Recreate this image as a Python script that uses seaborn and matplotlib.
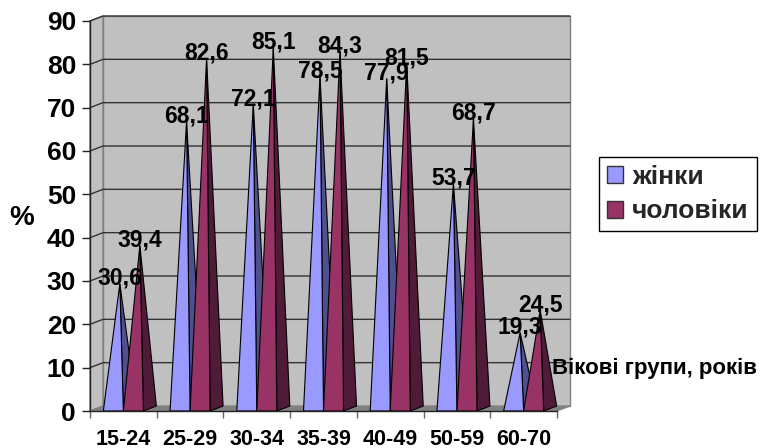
import matplotlib
matplotlib.use('Agg')
import matplotlib.pyplot as plt
from matplotlib.patches import Polygon, Patch, Rectangle
import pandas as pd
import seaborn as sns

age_groups = ['15-24', '25-29', '30-34', '35-39', '40-49', '50-59', '60-70']
women = [30.6, 68.1, 72.1, 78.5, 77.9, 53.7, 19.3]
men = [39.4, 82.6, 85.1, 84.3, 81.5, 68.7, 24.5]
series_names = ['жінки', 'чоловіки']
y_ticks = [0, 10, 20, 30, 40, 50, 60, 70, 80, 90]

df = pd.DataFrame({
    'group': age_groups * 2,
    'sex': [series_names[0]] * len(women) + [series_names[1]] * len(men),
    'value': women + men,
})

sns.set_theme(style='white')
plt.rcParams['font.family'] = ['Liberation Sans', 'DejaVu Sans']
plt.rcParams['font.weight'] = 'bold'

W, H = 760, 448
fig = plt.figure(figsize=(W / 100, H / 100), dpi=100)
# axes = front plane of the old 3d excel chart
ax = fig.add_axes([90 / W, 1 - 411 / H, 467 / W, 390 / H])

front = {series_names[0]: '#9999FF', series_names[1]: '#993366'}
side = {series_names[0]: '#50508F', series_names[1]: '#4F1B38'}

sns.barplot(data=df, x='group', y='value', hue='sex', palette=front, width=0.6,
            ax=ax, legend=False)
ax.set_xlim(-0.5, 6.5)
ax.set_ylim(0, 90)

# depth of the fake 3d box, in data units
dx = 13 / (467 / 7)
dy = 5 / (390 / 90)
apex_drop = 1.2

# walls and floor
wall = [(-0.5 + dx, dy), (6.5 + dx, dy), (6.5 + dx, 90 + dy), (-0.5 + dx, 90 + dy)]
ax.add_patch(Polygon(wall, fc='#C0C0C0', ec='#808080', lw=1, clip_on=False, zorder=0.5))
left = [(-0.5, 0), (-0.5 + dx, dy), (-0.5 + dx, 90 + dy), (-0.5, 90)]
ax.add_patch(Polygon(left, fc='#C0C0C0', ec='#808080', lw=1, clip_on=False, zorder=0.5))
floor = [(-0.5, 0), (6.5, 0), (6.5 + dx, dy), (-0.5 + dx, dy)]
ax.add_patch(Polygon(floor, fc='#808080', ec='#808080', lw=0.8, clip_on=False, zorder=0.6))
for t in y_ticks[1:]:
    ax.plot([-0.5, -0.5 + dx, 6.5 + dx], [t, t + dy, t + dy], color='#333333', lw=1,
            clip_on=False, zorder=0.7)

# turn every seaborn bar into a pyramid
bars = [b for b in ax.patches if isinstance(b, Rectangle)]
for bar, name in zip(bars, df['sex']):
    x0, x1, h = bar.get_x(), bar.get_x() + bar.get_width(), bar.get_height()
    apex = ((x0 + x1) / 2 + dx / 2, h - apex_drop)
    bar.set_visible(False)
    ax.add_patch(Polygon([(x1, 0), (x1 + dx, dy), apex], fc=side[name], ec='black', lw=0.8,
                         clip_on=False, zorder=2))
    ax.add_patch(Polygon([(x0, 0), (x1, 0), apex], fc=front[name], ec='black', lw=0.8,
                         clip_on=False, zorder=2))
for bar in bars:
    x = bar.get_x() + bar.get_width() / 2 + dx / 2
    h = bar.get_height()
    ax.text(x, h, f'{h:.1f}'.replace('.', ','), ha='center', va='center', fontsize=16.5,
            fontweight='bold', color='black', zorder=5, clip_on=False)

sns.despine(ax=ax, top=True, right=True)
for s in ['left', 'bottom']:
    ax.spines[s].set_color('#222222')
    ax.spines[s].set_linewidth(1)
    ax.spines[s].set_zorder(3)
ax.set_yticks(y_ticks)
ax.set_xticks([i - 0.5 for i in range(8)], minor=True)
ax.set_xticks(range(7), age_groups)
ax.tick_params(axis='y', which='major', left=True, length=6, width=1, color='#222222',
               labelsize=19, pad=4)
ax.tick_params(axis='x', which='major', bottom=False, labelsize=15.5, pad=7)
ax.tick_params(axis='x', which='minor', bottom=True, length=5, width=1, color='#666666')
ax.set_xlabel('')
ax.set_ylabel('')
for lab in ax.get_xticklabels() + ax.get_yticklabels():
    lab.set_fontweight('bold')
    lab.set_color('black')

fig.text(22 / W, 1 - 218 / H, '%', fontsize=20, fontweight='bold', color='black',
         ha='center', va='center')
fig.text(552 / W, 1 - 368 / H, 'Вікові групи, років', fontsize=16, fontweight='bold',
         color='black', ha='left', va='center', zorder=6)

handles = [Patch(fc=front[n], ec='#333333', lw=1, label=n) for n in series_names]
leg = fig.legend(handles=handles, loc='upper left', bbox_to_anchor=(599 / W, 1 - 157 / H),
                 fancybox=False, framealpha=1, edgecolor='black',
                 handlelength=0.6, handleheight=0.6, handletextpad=0.35, labelspacing=0.4,
                 borderpad=0.3, borderaxespad=0, prop={'weight': 'bold', 'size': 19})
leg.get_frame().set_linewidth(1)

fig.savefig('out.png', dpi=100)
